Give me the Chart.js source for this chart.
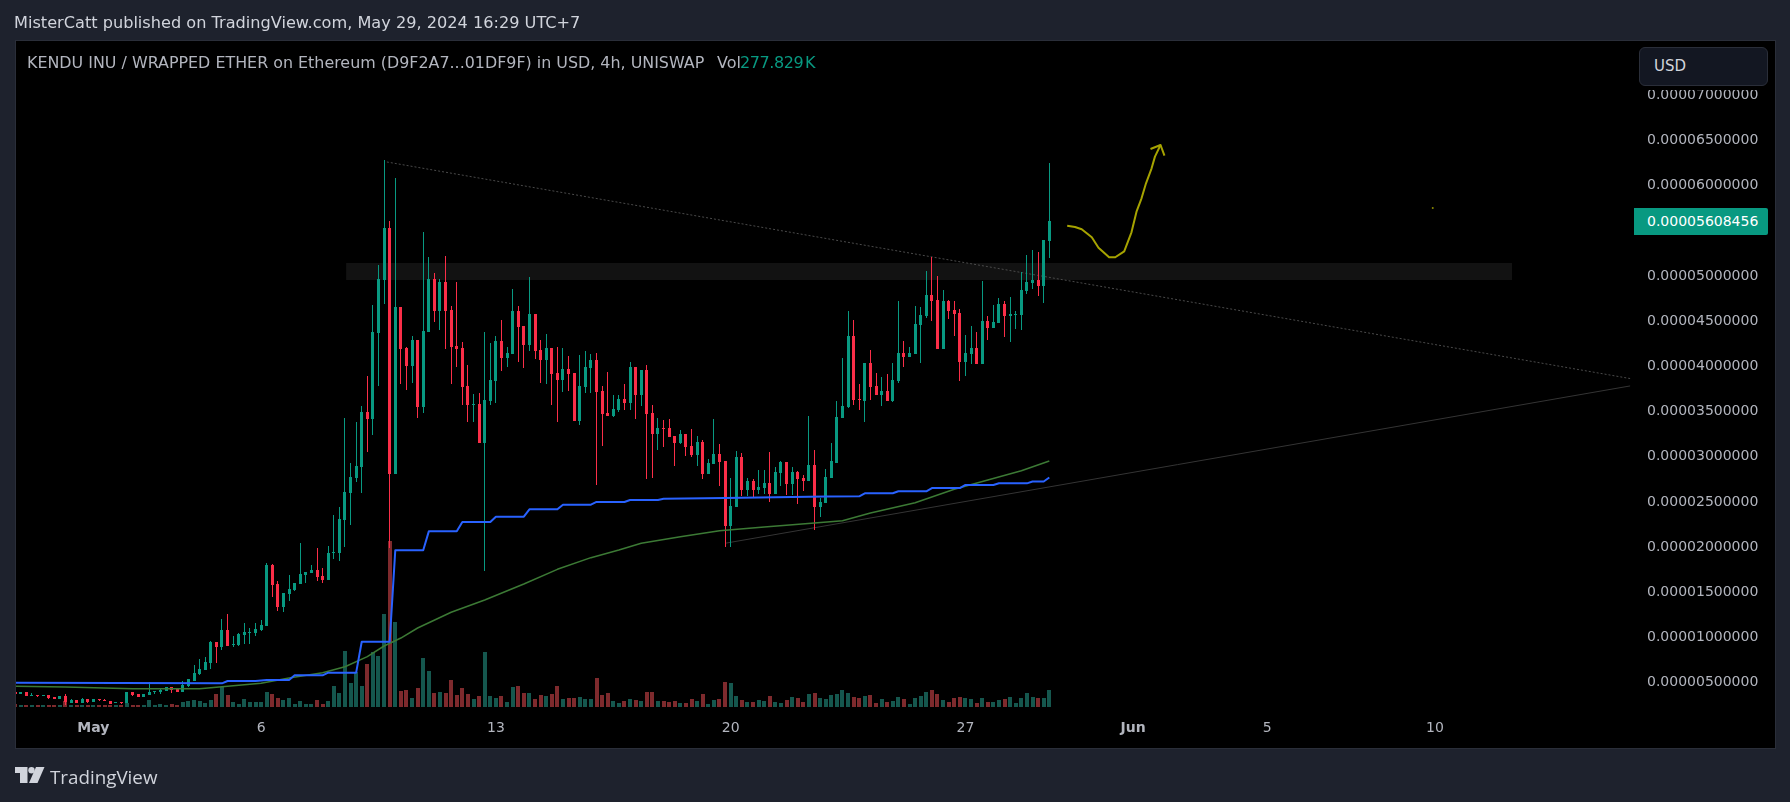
<!DOCTYPE html>
<html><head><meta charset="utf-8"><title>KENDU INU / WRAPPED ETHER</title>
<script src="https://cdn.jsdelivr.net/npm/chart.js@4"></script>
<style>
html,body{margin:0;padding:0;width:1790px;height:802px;overflow:hidden;background:#1e222d;font-family:"DejaVu Sans",sans-serif}
#panel{position:absolute;left:15px;top:40px;width:1759px;height:707px;background:#000;border:1px solid #2a2e39}
canvas{position:absolute;left:0;top:0}
.t{position:absolute;white-space:nowrap}
#pub{left:14px;top:12px;font-size:16.15px;line-height:22px;color:#d1d4dc}
#sym{left:27px;top:52px;font-size:15.9px;line-height:22px;color:#b2b5be}
#vol{left:740px;top:52px;font-size:16px;line-height:22px;color:#089981;letter-spacing:-.4px;word-spacing:-3px}
#volL{left:717px;top:52px;font-size:16px;line-height:22px;color:#b2b5be}
#mask{position:absolute;left:1636px;top:44px;width:136px;height:46px;background:#000}
#usd{position:absolute;left:1639px;top:47px;width:127px;height:37px;background:#131722;border:1px solid #2a2e39;border-radius:6px;color:#d1d4dc;font-size:15px;line-height:37px;text-indent:14px}
#tag{position:absolute;left:1634px;top:208px;width:134px;height:27px;background:#089981;border-radius:0 2px 2px 0;color:#fff;font-size:14px;line-height:26px;text-indent:13px}
#logo{position:absolute;left:15px;top:767px}
#tv{left:50px;top:763px;font-family:"Open Sans",sans-serif;font-size:18.8px;line-height:28px;color:#d1d4dc}
</style></head><body>
<div id="panel"></div>
<canvas id="c" width="1790" height="802" style="width:1790px;height:802px"></canvas>
<div class="t" id="pub">MisterCatt published on TradingView.com, May 29, 2024 16:29 UTC+7</div>
<div class="t" id="sym">KENDU INU / WRAPPED ETHER on Ethereum (D9F2A7...01DF9F) in USD, 4h, UNISWAP</div>
<div class="t" id="volL">Vol</div><div class="t" id="vol">277.829 K</div>
<div id="mask"></div><div id="usd">USD</div>
<div id="tag">0.00005608456</div>
<svg id="logo" width="30" height="16" viewBox="0 0 30 16"><path fill="#d1d4dc" d="M0 0H12.5V16H5V6H0Z"/><circle cx="16.5" cy="3.2" r="3.2" fill="#d1d4dc"/><path fill="#d1d4dc" d="M21 0H29.5L22.5 16H14Z"/></svg>
<div class="t" id="tv">TradingView</div>
<script>
// Prices are in units of 1e-6 USD; volumes in thousands. Candle slot 0 = 28 Apr, 4h each.
const PRICE_UNIT = 1e-6;
const opens = [3.98,3.76,3.98,3.54,3.65,3.54,3.65,3.43,3.21,3.54,2.76,3.10,2.76,3.21,2.88,3.21,3.10,2.99,2.76,2.88,
2.76,3.98,3.76,3.43,3.65,3.98,3.98,4.09,4.53,4.31,3.98,4.65,5.20,5.97,6.41,7.19,9.51,8.96,10.84,9.18,
9.18,10.29,10.51,10.51,10.84,11.28,18.03,15.93,13.38,14.82,15.26,15.93,16.92,17.14,17.47,16.81,16.37,19.36,19.36,23.00,
25.99,27.65,28.87,34.95,34.18,43.69,49.55,55.30,28.09,46.56,42.03,40.04,42.91,35.50,43.80,49.66,46.12,49.33,46.23,42.25,
42.03,37.83,35.72,35.83,31.52,36.17,38.38,42.80,40.92,41.37,46.12,44.46,42.36,45.79,41.81,40.70,42.03,39.26,38.49,39.71,
39.26,33.95,37.71,39.82,40.70,37.27,34.84,34.51,35.17,36.39,35.94,39.93,36.83,39.59,34.84,32.52,33.18,33.18,32.30,31.52,
32.52,31.19,30.19,31.63,28.09,29.20,30.30,29.53,22.34,24.44,29.97,26.32,27.32,26.32,26.54,27.10,25.88,28.20,29.42,26.99,
28.31,27.65,27.32,29.09,24.44,24.89,27.65,29.31,34.29,35.50,43.36,36.39,36.17,40.37,37.83,36.83,37.27,36.17,38.38,41.48,
41.03,41.36,44.57,45.57,47.89,47.34,41.92,47.23,46.23,45.90,40.48,41.36,42.03,40.26,45.01,44.24,44.79,46.89,45.57,45.68,
45.68,48.33,49.22,49.55,48.88,53.86];
const highs = [3.98,3.98,3.98,3.87,3.65,3.65,3.65,3.43,3.54,3.76,3.21,3.10,3.32,3.21,3.21,3.21,3.21,2.99,2.88,2.88,
3.98,3.98,3.76,3.76,5.09,4.09,4.42,4.53,4.53,4.31,5.20,5.42,6.97,7.63,7.85,9.62,9.51,12.06,12.61,10.18,
10.51,11.61,11.06,11.61,11.94,18.25,18.14,16.26,14.93,16.92,16.04,20.46,17.25,18.03,19.91,17.70,20.13,23.56,24.44,34.29,
29.31,33.84,35.61,38.93,46.78,51.21,62.82,56.07,60.83,46.56,42.14,43.36,42.91,54.86,52.09,50.32,49.66,52.20,46.67,49.33,
42.69,40.15,36.94,37.05,43.80,42.58,43.36,45.12,42.14,48.55,46.67,44.46,49.88,45.79,42.91,43.58,42.03,42.14,42.03,41.14,
39.26,41.25,41.70,41.36,41.48,37.83,39.37,36.83,36.83,38.05,40.48,39.93,39.59,40.15,35.72,34.29,34.07,34.18,32.30,32.96,
32.52,33.07,32.30,31.85,29.75,34.18,31.41,29.53,27.65,30.64,30.42,27.65,27.54,28.53,28.53,30.53,28.87,29.53,29.42,28.87,
28.42,27.98,34.51,30.75,25.44,28.65,31.52,36.17,40.92,46.12,45.12,38.05,40.37,41.81,39.26,38.82,39.15,40.37,47.23,42.80,
42.14,46.67,46.56,50.54,52.09,49.99,48.44,47.34,47.23,46.34,43.47,44.46,43.80,49.44,45.57,46.78,47.56,47.23,47.67,46.12,
50.43,52.31,52.87,52.64,53.97,62.49];
const lows = [3.76,3.76,3.54,3.54,3.43,3.54,3.21,3.21,3.21,2.54,2.76,2.76,2.76,2.76,2.88,2.99,2.99,2.65,2.76,2.65,
2.76,3.54,3.43,3.43,3.65,3.76,3.76,4.09,3.87,3.98,3.98,4.53,5.20,5.86,6.41,6.53,7.19,8.63,9.07,8.96,
9.07,9.29,9.29,10.18,10.73,11.28,14.49,12.94,12.83,14.05,15.15,15.93,16.04,17.14,16.26,16.04,16.37,18.69,18.47,20.02,
22.45,27.21,25.99,30.53,32.41,37.83,46.89,19.91,28.09,38.05,37.38,38.16,34.29,34.84,43.80,44.90,44.02,41.92,38.05,39.93,
35.72,33.84,33.84,31.52,17.36,35.72,35.94,39.48,39.93,41.37,40.48,39.82,41.70,40.81,38.16,38.05,35.72,33.84,37.16,37.27,
33.95,33.51,37.05,37.05,26.88,31.19,34.51,34.40,34.95,35.17,35.17,34.18,35.61,27.54,27.65,30.75,31.08,32.18,28.98,31.41,
30.08,29.97,28.98,27.54,28.09,29.20,26.77,20.02,20.02,24.44,25.66,25.66,25.55,25.88,25.88,25.00,25.88,26.77,25.77,25.77,
24.77,26.21,27.32,21.90,23.34,24.89,27.65,29.31,34.29,35.39,35.72,35.17,33.84,36.28,36.83,35.61,36.17,36.06,38.16,39.93,
41.03,41.36,40.37,45.35,45.01,41.92,41.92,45.24,43.36,38.38,38.93,40.26,40.26,40.26,42.91,44.24,44.79,43.24,42.69,44.13,
44.02,48.00,48.55,47.78,47.00,51.98];
const closes = [3.76,3.98,3.54,3.65,3.54,3.65,3.32,3.21,3.54,2.88,3.10,2.76,3.21,2.88,3.21,3.10,2.99,2.65,2.88,2.76,
3.98,3.65,3.43,3.76,3.98,4.09,4.20,4.53,4.20,3.98,4.76,5.42,6.08,6.53,7.30,9.51,8.96,10.84,9.07,9.29,
10.40,10.62,10.62,10.95,11.39,18.03,15.82,13.38,14.93,15.37,16.04,17.03,17.25,17.47,16.70,16.37,19.36,19.47,23.12,26.10,
27.76,28.98,34.95,34.18,43.80,49.66,55.30,28.09,46.56,41.92,40.04,42.91,35.50,43.91,49.66,46.12,49.33,46.12,42.14,41.92,
37.71,35.72,35.83,31.52,36.28,38.49,42.80,40.92,41.48,46.12,44.35,42.36,45.79,41.70,40.70,42.03,39.15,38.49,39.71,39.15,
33.95,37.83,39.93,40.70,37.16,34.73,34.51,35.28,36.39,35.94,39.93,36.83,39.59,34.73,32.52,33.18,33.07,32.18,31.52,32.52,
31.08,30.19,31.63,28.09,29.31,30.30,29.42,22.34,24.55,29.97,26.32,27.32,26.32,26.65,27.10,25.88,28.31,29.42,26.99,28.31,
27.54,27.32,29.09,24.44,25.00,27.76,29.53,34.40,35.61,43.36,36.28,36.28,40.37,37.71,36.83,37.27,36.17,38.49,41.48,41.03,
41.48,44.68,45.68,47.89,47.23,41.92,47.23,46.12,45.79,40.48,41.48,42.03,40.26,45.01,44.24,44.90,46.89,45.57,45.79,45.79,
48.44,49.33,49.55,48.88,53.97,56.08];
const volumes = [49,33,33,33,33,33,33,33,33,98,33,33,33,33,33,33,33,33,33,33,
65,33,33,33,114,33,49,33,49,33,82,98,114,98,65,114,212,327,196,82,
49,131,82,82,82,245,212,147,114,147,49,98,49,49,114,49,98,343,229,915,
392,572,343,703,899,833,1520,2712,1389,261,278,147,310,801,588,229,245,229,441,196,
310,212,131,180,899,180,147,180,82,327,343,229,229,131,196,180,212,343,131,147,
147,163,131,131,474,196,229,98,65,98,131,114,98,245,245,98,98,82,98,65,
65,131,98,212,49,114,131,409,392,180,114,82,82,114,98,180,82,65,114,163,
147,82,212,229,147,131,196,212,278,229,163,147,180,196,65,131,82,98,163,131,
49,147,180,245,278,212,114,82,147,163,147,131,65,147,82,82,114,131,163,65,
147,229,163,147,147,277.829];
const blueSlots = [0,37,38,43,45,49,50,55,56,61,62,67,68,73,74,79,80,85,86,91,92,97,98,103,104,109,110,115,116,127,145,151,152,157,158,163,164,169,170,175,176,181,182,184,185];
const blueValues = [5.01,4.94,5.20,5.20,5.31,5.31,5.83,5.83,6.12,6.12,9.54,9.54,19.65,19.65,21.75,21.75,22.78,22.78,23.37,23.37,24.19,24.19,24.70,24.70,25.00,25.00,25.22,25.22,25.36,25.44,25.60,25.63,25.96,25.96,26.18,26.18,26.54,26.54,26.88,26.88,27.06,27.06,27.26,27.26,27.70];
const greenSlots = [0,9,21,33,39,44,49,55,59,63,66,69,72,78,84,91,97,103,108,112,119,126,134,143,148,153,161,168,174,180,185];
const greenValues = [4.61,4.53,4.35,4.35,4.68,4.94,5.53,6.12,6.78,7.89,9.07,9.95,11.06,12.80,14.16,15.93,17.55,18.84,19.69,20.43,21.16,21.82,22.23,22.67,22.93,23.78,24.92,26.40,27.43,28.46,29.53];
const penSlots = [188.2,189.6,190.8,192.6,193.8,195.7,196.8,198.4,199.7,200.6,201.5,202.3,203.3,203.9,204.9];
const penValues = [55.55,55.41,55.16,54.27,53.12,52.06,52.06,52.72,54.82,57.10,58.58,60.24,61.90,63.19,64.48];
const arrowSlots = [203.1,204.9,205.6];
const arrowValues = [64.04,64.48,63.30];
const dotSlot = [253.6], dotValue = [57.5];
const fallingSlots = [66.5,288.9], fallingValues = [62.6,38.65];
const risingSlots = [127,288.9], risingValues = [20.43,37.83];
const zoneSlots = [59.2,267.8], zoneValues = [51.44,51.44], zoneBase = 49.55;
const tickSlots = [14,44,86,128,170,200,224,254];
const tickLabels = ['May','6','13','20','27','Jun','5','10'];
const priceTicks = [5,10,15,20,25,30,35,40,45,50,55,60,65,70];

const UP='#089981', DOWN='#fb2e48', UPV='#15574e', DOWNV='#7e2a2d';
const isUp = closes.map((c,i)=>c>=opens[i]);
const pts = (xs,ys)=>xs.map((x,i)=>({x,y:ys[i]}));
const line = (xs,ys,color,w,order,extra)=>Object.assign({type:'line',data:pts(xs,ys),borderColor:color,borderWidth:w,pointRadius:0,tension:0,order,yAxisID:'y',borderJoinStyle:'round'},extra||{});
const bar = (data,colors,t,order,axis)=>({type:'bar',data,backgroundColor:colors,barThickness:t,grouped:false,borderWidth:0,inflateAmount:0,order,yAxisID:axis});

const snap = {id:'snap',afterDatasetsUpdate(chart){
  chart.data.datasets.forEach((ds,i)=>{ if(ds.type!=='bar')return;
    const odd = ds.barThickness%2===1;
    chart.getDatasetMeta(i).data.forEach(el=>{
      el.x = odd ? Math.floor(el.x)+0.5 : Math.round(el.x);
      let a=Math.round(el.y), b=Math.round(el.base);
      if(a===b) b=a+1;
      el.y=a; el.base=b; el.height=b-a;
    });
  });
}};

new Chart(document.getElementById('c'),{
  data:{datasets:[
    line(zoneSlots,zoneValues,'rgba(0,0,0,0)',0,9,{fill:{value:zoneBase},backgroundColor:'#121212'}),
    bar(volumes.map((v,i)=>({x:i,y:v})),isUp.map(u=>u?UPV:DOWNV),4,8,'vol'),
    line(fallingSlots,fallingValues,'#4a4a4a',1,7,{borderDash:[2,2]}),
    line(risingSlots,risingValues,'#343434',1,6),
    bar(highs.map((h,i)=>({x:i,y:[lows[i],h]})),isUp.map(u=>u?UP:DOWN),1,5,'y'),
    bar(opens.map((o,i)=>({x:i,y:[o,closes[i]]})),isUp.map(u=>u?UP:DOWN),3,4,'y'),
    line(greenSlots,greenValues,'#3c7a35',1.5,3),
    line(blueSlots,blueValues,'#2962ff',2,2),
    line(penSlots,penValues,'#a6a300',2,1),
    line(arrowSlots,arrowValues,'#a6a300',2,1),
    line(dotSlot,dotValue,'#8a8800',0,1,{pointRadius:1,pointBackgroundColor:'#8a8800',pointBorderWidth:0})
  ]},
  options:{
    responsive:false,animation:false,devicePixelRatio:1,events:[],
    layout:{padding:{left:16,top:42,right:15,bottom:54}},
    plugins:{legend:{display:false},tooltip:{enabled:false},title:{display:false}},
    scales:{
      x:{type:'linear',min:0.152,max:289.24,offset:false,border:{display:false},grid:{display:false,drawTicks:false},
        afterBuildTicks(s){s.ticks=tickSlots.map(v=>({value:v}));},
        afterFit(s){s.height=36;},
        ticks:{autoSkip:false,maxRotation:0,padding:8,color:'#b2b5be',
          font:c=>({family:'"DejaVu Sans"',size:14,weight:(c.tick&&(c.tick.value===14||c.tick.value===200))?'600':'400'}),
          callback:v=>tickLabels[tickSlots.indexOf(v)]}},
      y:{type:'linear',position:'right',min:1.77,max:75.87,border:{display:false},grid:{display:false,drawTicks:false},
        afterBuildTicks(s){s.ticks=priceTicks.map(v=>({value:v}));},
        afterFit(s){s.width=143;},
        ticks:{padding:15,color:'#b2b5be',crossAlign:'near',autoSkip:false,font:{family:'"DejaVu Sans"',size:14},
          callback:v=>(v*PRICE_UNIT).toFixed(11)}},
      vol:{type:'linear',display:false,min:-81.7,max:10866}
    }
  },
  plugins:[snap]
});
</script>
</body></html>
